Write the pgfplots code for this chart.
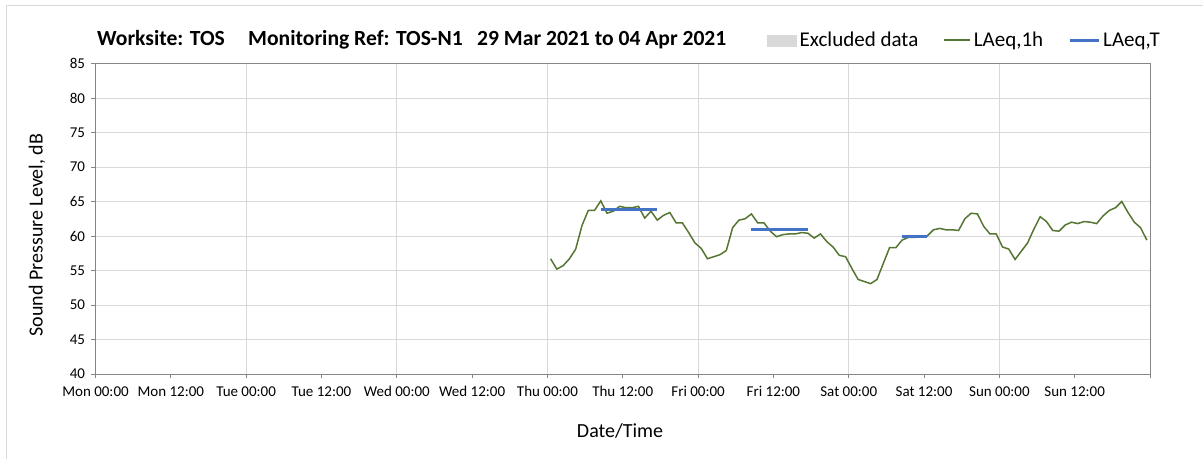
\documentclass[border=0pt]{standalone}
\usepackage{fontspec}
\setmainfont{Carlito}
\usepackage{pgfplots}
\pgfplotsset{compat=1.18}
\definecolor{lgreen}{RGB}{84,118,50}
\definecolor{lblue}{RGB}{68,114,196}
\definecolor{gridc}{RGB}{217,217,217}
\definecolor{axisc}{RGB}{134,134,134}
\definecolor{exclc}{RGB}{217,217,217}
\definecolor{framec}{RGB}{217,217,217}
\pgfplotsset{
  exclegend/.style={legend image code/.code={\fill[exclc] (0pt,-5.5pt) rectangle (29pt,5.5pt);}},
  greenlegend/.style={legend image code/.code={\draw[##1] (0pt,0pt) -- (26pt,0pt);}},
  bluelegend/.style={legend image code/.code={\draw[##1] (0pt,0pt) -- (29pt,0pt);}},
}
\begin{document}
\begin{tikzpicture}[x=1pt,y=1pt]
\path[use as bounding box] (0,0) rectangle (1203,459);
\draw[framec, line width=1pt] (6,0) -- (6,453) -- (1203,453);
\node[anchor=base west, inner sep=0pt, font=\bfseries\fontsize{21.6}{24}\selectfont] at (97,413) {Worksite: TOS};
\node[anchor=base west, inner sep=0pt, font=\bfseries\fontsize{21.6}{24}\selectfont] at (248,413) {Monitoring Ref: TOS-N1};
\node[anchor=base west, inner sep=0pt, font=\bfseries\fontsize{21.6}{24}\selectfont] at (477,413) {29 Mar 2021 to 04 Apr 2021};
\begin{axis}[
  at={(95.5pt,85pt)}, anchor=south west,
  scale only axis, width=1054.5pt, height=310.5pt,
  xmin=0, xmax=168, ymin=40, ymax=85,
  xtick={0,12,...,168},
  xticklabels={Mon 00:00, Mon 12:00, Tue 00:00, Tue 12:00, Wed 00:00, Wed 12:00, Thu 00:00, Thu 12:00, Fri 00:00, Fri 12:00, Sat 00:00, Sat 12:00, Sun 00:00, Sun 12:00, {}},
  ytick={40,45,...,85},
  ymajorgrids,
  major grid style={gridc, line width=1pt},
  extra x ticks={24,48,72,96,120,144},
  extra x tick labels={},
  extra x tick style={grid=major, major tick length=0pt},
  tick pos=left, tick align=outside, major tick length=4pt,
  tick style={axisc, line width=0.9pt},
  axis line style={axisc, line width=0.9pt},
  ticklabel style={font=\fontsize{15}{18}\selectfont},
  yticklabel style={xshift=-3pt},
  xticklabel style={yshift=-5pt},
  /pgf/number format/assume math mode=true,
  xlabel={Date/Time}, ylabel={Sound Pressure Level, dB},
  every axis x label/.style={at={(axis description cs:0.4974,-0.1836)}, anchor=center, font=\fontsize{20}{24}\selectfont},
  every axis y label/.style={at={(axis description cs:-0.0555,0.4477)}, anchor=center, rotate=90, font=\fontsize{20}{24}\selectfont},
  legend columns=3,
  legend style={at={(axis description cs:1.0123,1.075)}, anchor=east, draw=none, fill=none,
    font=\fontsize{21}{24}\selectfont, inner sep=0pt, column sep=0pt,
    nodes={inner sep=3pt},
    /tikz/every even column/.append style={column sep=22pt}},
  legend cell align=left,
  unbounded coords=jump,
]
\addlegendimage{exclegend}
\addlegendentry{Excluded data}
\addplot[lgreen, line width=1.5pt, greenlegend] coordinates {
(72.5,56.7) (73.5,55.2) (74.5,55.7) (75.5,56.7) (76.5,58.1) (77.5,61.5) (78.5,63.7) (79.5,63.7)
(80.5,65.1) (81.5,63.3) (82.5,63.6) (83.5,64.3) (84.5,64.1) (85.5,64.1) (86.5,64.3) (87.5,62.6)
(88.5,63.6) (89.5,62.3) (90.5,63.0) (91.5,63.4) (92.5,61.9) (93.5,61.9) (94.5,60.5) (95.5,59.0)
(96.5,58.2) (97.5,56.7) (98.5,57.0) (99.5,57.3) (100.5,57.9) (101.5,61.2) (102.5,62.3) (103.5,62.5)
(104.5,63.2) (105.5,61.9) (106.5,61.9) (107.5,60.7) (108.5,59.9) (109.5,60.2) (110.5,60.3) (111.5,60.3)
(112.5,60.5) (113.5,60.4) (114.5,59.7) (115.5,60.3) (116.5,59.2) (117.5,58.4) (118.5,57.2) (119.5,57.0)
(120.5,55.3) (121.5,53.7) (122.5,53.4) (123.5,53.1) (124.5,53.7) (125.5,56.0) (126.5,58.3) (127.5,58.3)
(128.5,59.4) (129.5,59.8) (130.5,59.8) (131.5,59.9) (132.5,60.0) (133.5,60.9) (134.5,61.1) (135.5,60.9)
(136.5,60.9) (137.5,60.8) (138.5,62.5) (139.5,63.3) (140.5,63.2) (141.5,61.4) (142.5,60.3) (143.5,60.3)
(144.5,58.4) (145.5,58.1) (146.5,56.6) (147.5,57.8) (148.5,59.0) (149.5,61.0) (150.5,62.8) (151.5,62.1)
(152.5,60.8) (153.5,60.7) (154.5,61.6) (155.5,62.0) (156.5,61.8) (157.5,62.1) (158.5,62.0) (159.5,61.8)
(160.5,62.9) (161.5,63.7) (162.5,64.1) (163.5,65.0) (164.5,63.4) (165.5,62.0) (166.5,61.2) (167.5,59.4)
};
\addlegendentry{LAeq,1h}
\addplot[lblue, line width=3pt, bluelegend] coordinates {
(80.5,63.8) (89.5,63.8) (97,nan)
(104.5,61.0) (113.5,61.0) (121,nan)
(128.5,59.9) (132.5,59.9)
};
\addlegendentry{LAeq,T}
\end{axis}
\end{tikzpicture}
\end{document}
